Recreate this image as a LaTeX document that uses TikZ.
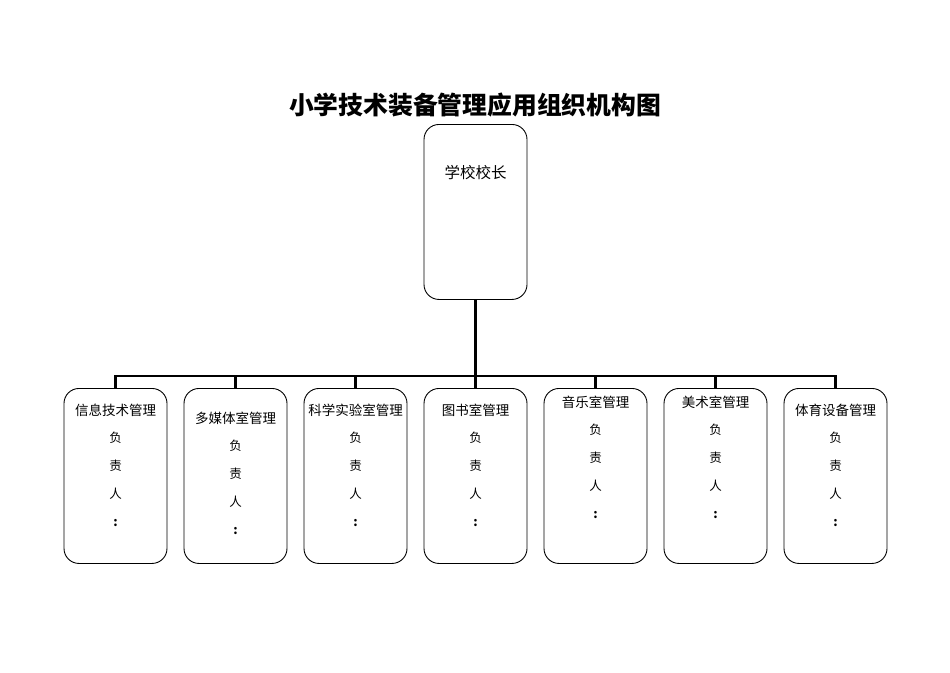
\documentclass[tikz,border=0pt]{standalone}
\usepackage{fontspec}
\newfontfamily\cjk{Noto Sans CJK SC}
\begin{document}
\begin{tikzpicture}[x=1pt,y=-1pt,
  box/.style={draw=black,line width=0.9pt,rounded corners=15pt,minimum width=103pt,minimum height=175pt,inner sep=0pt,anchor=north},
  lbl/.style={font=\cjk\fontsize{13.5}{13.5}\selectfont,inner sep=0pt},
  dut/.style={font=\cjk\fontsize{12.5}{12.5}\selectfont,inner sep=0pt},
  bus/.style={line width=2.6pt},
  drop/.style={line width=2.2pt}]
\useasboundingbox (0,0) rectangle (950,672);
\node[inner sep=0pt,font=\cjk\bfseries\fontsize{24.8}{24.8}\selectfont] (title) at (475,105) {小学技术装备管理应用组织机构图};
\node[box] (top) at (475.5,124) {};
\node[lbl,font=\cjk\fontsize{15.5}{15.5}\selectfont] (toplbl) at (475.5,173) {学校校长};
\coordinate (j) at (475.5,376);
\foreach \i/\x/\y/\t in {1/115.5/410/信息技术管理,2/235.5/418/多媒体室管理,3/355.5/410/科学实验室管理,4/475.5/410/图书室管理,5/595.5/402/音乐室管理,6/715.5/402/美术室管理,7/835.5/410/体育设备管理}{
  \node[box] (b\i) at (\x,388) {};
  \node[lbl] (t\i) at (\x,\y) {\t};
  \node[dut] (f\i) at (\x,\y+28) {负};
  \node[dut] (z\i) at (\x,\y+56) {责};
  \node[dut] (r\i) at (\x,\y+84) {人};
  \node[dut,font=\cjk\bfseries\fontsize{12.5}{12.5}\selectfont] (c\i) at (\x,\y+113) {:};
  \draw[drop] (b\i.north |- j) -- (b\i.north);
}
\draw[bus] (top.south) -- (j);
\draw[bus] ([xshift=-1.1pt]b1.north |- j) -- ([xshift=1.1pt]b7.north |- j);
\end{tikzpicture}
\end{document}
